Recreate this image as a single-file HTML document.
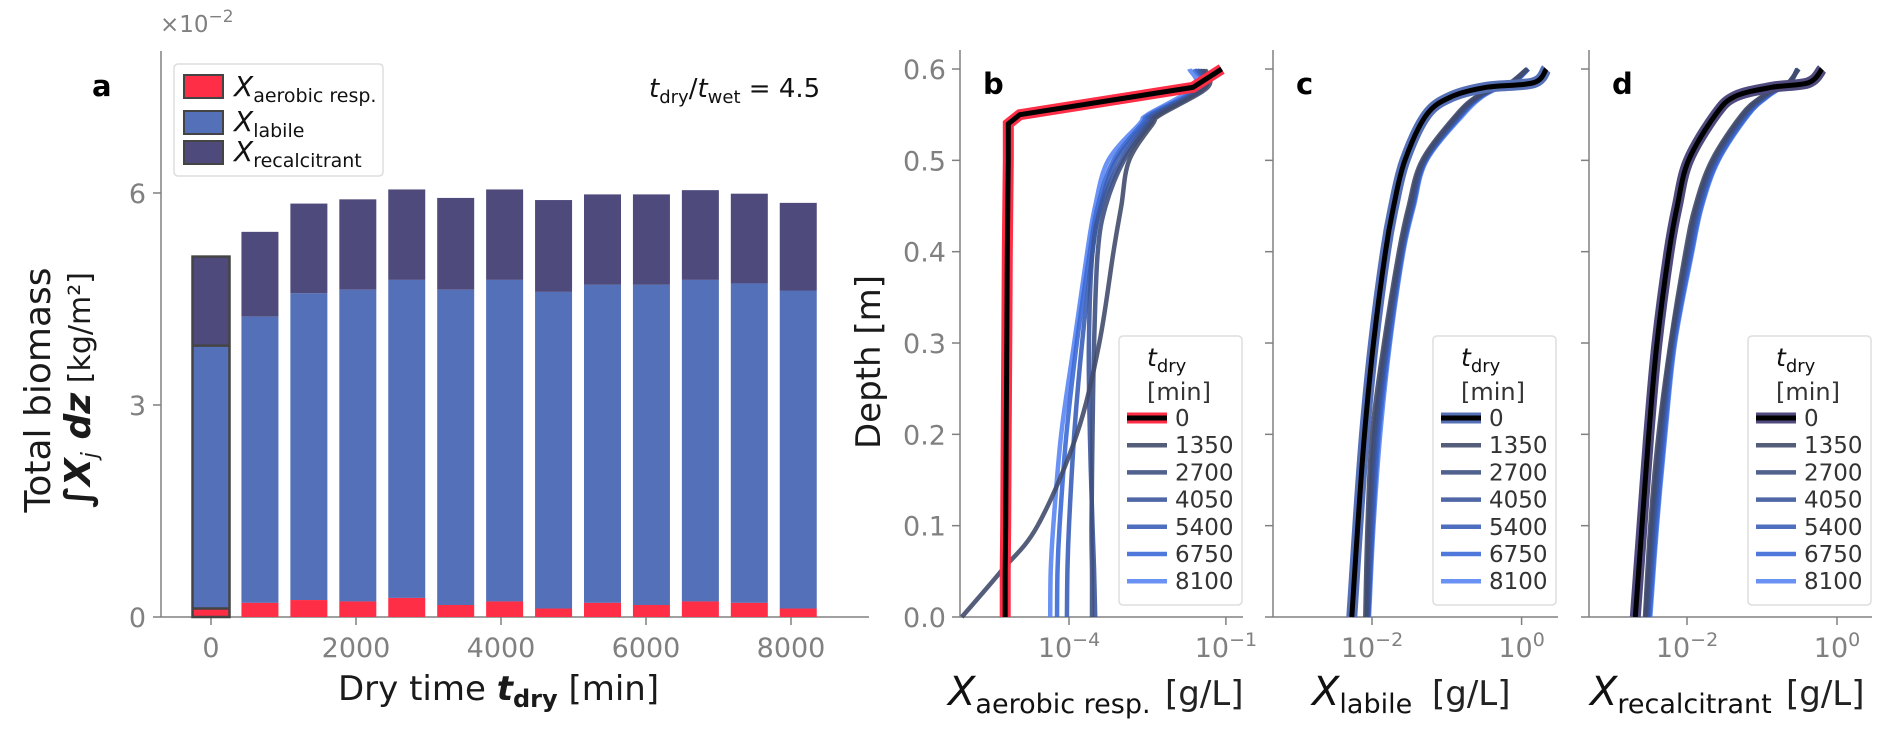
<!DOCTYPE html>
<html><head><meta charset="utf-8"><style>
html,body{margin:0;padding:0;background:#fff;}
svg{display:block;font-family:"DejaVu Sans","Liberation Sans",sans-serif;}
.tick{fill:#808080;font-size:27px;}
.lab{fill:#1a1a1a;font-size:32px;}
</style></head><body>
<svg id="fig" width="1892" height="731" viewBox="0 0 1892 731" xmlns="http://www.w3.org/2000/svg">
<g id="pa"></g>
<g id="pb"></g>
<g id="pc"></g>
<g id="pd"></g>
</svg>
<script>
// ---- Panel a data ----
const dryTimes=[0,675,1350,2025,2700,3375,4050,4725,5400,6075,6750,7425,8100];
const aerobicVals=[0.12,0.2,0.24,0.22,0.27,0.17,0.22,0.12,0.2,0.17,0.22,0.2,0.12];
const labileTops=[3.84,4.25,4.58,4.63,4.77,4.63,4.77,4.6,4.7,4.7,4.77,4.72,4.62];
const totalVals=[5.1,5.45,5.85,5.91,6.05,5.93,6.05,5.9,5.98,5.98,6.04,5.99,5.86];
const aYTicks=[0,3,6];
const aXTicks=[0,2000,4000,6000,8000];
// ---- Profile panels data (log10 concentration vs depth) ----
const seriesLabels=["0","1350","2700","4050","5400","6750","8100"];
const depthB=[0,0.05,0.1,0.2,0.3,0.4,0.45,0.5,0.54,0.55,0.58,0.6];
const bVals=[
[-5.22,-5.22,-5.21,-5.2,-5.19,-5.18,-5.17,-5.16,-5.16,-4.94,-1.63,-1.08],
[-6.05,-5.3,-4.6,-3.85,-3.42,-3.15,-3.0,-2.85,-2.4,-2.25,-1.35,-1.4],
[-3.56,-3.56,-3.57,-3.55,-3.52,-3.45,-3.3,-2.95,-2.45,-2.3,-1.4,-1.45],
[-3.5,-3.52,-3.55,-3.6,-3.62,-3.55,-3.38,-3.0,-2.5,-2.35,-1.42,-1.5],
[-4.04,-4.03,-4.0,-3.9,-3.75,-3.55,-3.4,-3.1,-2.55,-2.4,-1.45,-1.55],
[-4.23,-4.22,-4.18,-4.05,-3.85,-3.6,-3.45,-3.15,-2.6,-2.45,-1.5,-1.6],
[-4.36,-4.35,-4.3,-4.15,-3.9,-3.65,-3.5,-3.25,-2.65,-2.5,-1.6,-1.7]];
const depthCD=[0,0.1,0.2,0.3,0.4,0.45,0.5,0.55,0.57,0.58,0.585,0.6];
const cVals=[
[-2.27,-2.19,-2.10,-1.98,-1.82,-1.71,-1.56,-1.27,-0.93,-0.47,0.16,0.33],
[-2.09,-2.06,-2.0,-1.84,-1.64,-1.51,-1.33,-0.87,-0.6,-0.33,-0.15,0.07],
[-2.07,-2.04,-1.97,-1.82,-1.62,-1.49,-1.31,-0.85,-0.58,-0.32,-0.14,0.08],
[-2.06,-2.02,-1.95,-1.8,-1.61,-1.47,-1.3,-0.83,-0.56,-0.31,-0.13,0.08],
[-2.05,-2.0,-1.93,-1.79,-1.6,-1.46,-1.29,-0.81,-0.55,-0.3,-0.12,0.09],
[-2.05,-1.99,-1.91,-1.77,-1.59,-1.45,-1.28,-0.8,-0.54,-0.29,-0.11,0.09],
[-2.04,-1.98,-1.89,-1.76,-1.58,-1.44,-1.27,-0.78,-0.52,-0.29,-0.1,0.09]];
const dVals=[
[-2.69,-2.6,-2.51,-2.4,-2.24,-2.13,-1.98,-1.62,-1.36,-0.87,-0.38,-0.2],
[-2.56,-2.49,-2.38,-2.22,-2.02,-1.89,-1.67,-1.27,-1.0,-0.78,-0.65,-0.51],
[-2.55,-2.47,-2.36,-2.21,-2.0,-1.87,-1.65,-1.25,-0.98,-0.77,-0.64,-0.52],
[-2.53,-2.45,-2.34,-2.2,-1.98,-1.85,-1.63,-1.23,-0.96,-0.76,-0.63,-0.52],
[-2.52,-2.43,-2.32,-2.19,-1.96,-1.83,-1.61,-1.21,-0.95,-0.75,-0.63,-0.53],
[-2.5,-2.41,-2.3,-2.17,-1.94,-1.81,-1.59,-1.19,-0.93,-0.74,-0.62,-0.53],
[-2.49,-2.4,-2.29,-2.16,-1.93,-1.8,-1.58,-1.18,-0.92,-0.73,-0.62,-0.53]];
const depthTicks=[0,0.1,0.2,0.3,0.4,0.5,0.6];
const bXTicks=[-4,-1];
const cdXTicks=[-2,0];

const NS="http://www.w3.org/2000/svg";
const seriesColors=["#000","#414b6c","#3e5081","#3c569c","#3b5fb8","#3b69d6","#5a86f3"];
function mk(parent,tag,attrs,text){const e=document.createElementNS(NS,tag);for(const k in attrs)e.setAttribute(k,attrs[k]);if(text!==undefined)e.textContent=text;parent.appendChild(e);return e;}
function smoothPath(P){
 let d='M'+P[0][0].toFixed(1)+','+P[0][1].toFixed(1);
 for(let i=0;i<P.length-1;i++){
  const p0=P[i-1]||P[i],p1=P[i],p2=P[i+1],p3=P[i+2]||P[i+1];
  const c1=[p1[0]+(p2[0]-p0[0])/6,p1[1]+(p2[1]-p0[1])/6];
  const c2=[p2[0]-(p3[0]-p1[0])/6,p2[1]-(p3[1]-p1[1])/6];
  d+=' C'+c1[0].toFixed(1)+','+c1[1].toFixed(1)+' '+c2[0].toFixed(1)+','+c2[1].toFixed(1)+' '+p2[0].toFixed(1)+','+p2[1].toFixed(1);
 }
 return d;
}

const xA=t=>211+t*0.0725;
const yA=v=>617-v*70.67;
const yDepth=d=>617-d*913.3;
const xB=l=>1069+(l+4)*52.3;
const xC=l=>1372+(l+2)*74.8;
const xD=l=>1687+(l+2)*75;

// ---------- Panel a ----------
const pa=document.getElementById('pa');
let e;
e=mk(pa,'line',{x1:161,y1:51,x2:161,y2:617,stroke:'#808080','stroke-width':1.5});

e=mk(pa,'line',{x1:161,y1:617,x2:869,y2:617,stroke:'#808080','stroke-width':1.5});

aYTicks.forEach(v=>{const y=yA(v);
 mk(pa,'line',{x1:153,y1:y,x2:161,y2:y,stroke:'#808080','stroke-width':1.5});
 e=mk(pa,'text',{x:146,y:y+10,'text-anchor':'end',class:'tick'},String(v));
 });
aXTicks.forEach(v=>{const x=xA(v);
 mk(pa,'line',{x1:x,y1:617,x2:x,y2:625,stroke:'#808080','stroke-width':1.5});
 e=mk(pa,'text',{x:x,y:657,'text-anchor':'middle',class:'tick'},String(v));
 });
const bw=37;
dryTimes.forEach((t,i)=>{const x=xA(t)-bw/2;
 e=mk(pa,'rect',{x:x,y:yA(totalVals[i]),width:bw,height:yA(labileTops[i])-yA(totalVals[i]),fill:'#4e4a7c'});
 
 e=mk(pa,'rect',{x:x,y:yA(labileTops[i]),width:bw,height:yA(aerobicVals[i])-yA(labileTops[i]),fill:'#5370b8'});
 
 e=mk(pa,'rect',{x:x,y:yA(aerobicVals[i]),width:bw,height:yA(0)-yA(aerobicVals[i]),fill:'#ff2e47'});
 
 if(i===0){
  mk(pa,'rect',{x:x,y:yA(totalVals[i]),width:bw,height:yA(0)-yA(totalVals[i]),fill:'none',stroke:'#444','stroke-width':2.5});
  mk(pa,'line',{x1:x,y1:yA(labileTops[i]),x2:x+bw,y2:yA(labileTops[i]),stroke:'#444','stroke-width':2.5});
  mk(pa,'line',{x1:x,y1:yA(aerobicVals[i]),x2:x+bw,y2:yA(aerobicVals[i]),stroke:'#444','stroke-width':2.5});
 }
});
</script>
<script>
(function(){
const pa=document.getElementById('pa');
pa.insertAdjacentHTML('beforeend',`
<text x="160" y="32" class="tick" style="font-size:23px">×10<tspan dy="-10" style="font-size:17px">−2</tspan></text>
<text x="92" y="96" style="font-size:29px;font-weight:bold" fill="#000">a</text>
<g>
<rect x="174" y="64" width="209" height="112" rx="4" fill="#fff" stroke="#ddd" stroke-width="1.5"/>
<rect x="184" y="75" width="39" height="23" fill="#ff2e47" stroke="#444" stroke-width="2"/>
<rect x="184" y="111" width="39" height="23" fill="#5370b8" stroke="#444" stroke-width="2"/>
<rect x="184" y="141" width="39" height="23" fill="#4e4a7c" stroke="#444" stroke-width="2"/>
<text x="234" y="96" style="font-size:28px;font-style:italic" fill="#111">X<tspan dy="6" style="font-size:19px;font-style:normal">aerobic resp.</tspan></text>
<text x="234" y="131" style="font-size:28px;font-style:italic" fill="#111">X<tspan dy="6" style="font-size:19px;font-style:normal">labile</tspan></text>
<text x="234" y="161" style="font-size:28px;font-style:italic" fill="#111">X<tspan dy="6" style="font-size:19px;font-style:normal">recalcitrant</tspan></text>
</g>
<text x="649" y="97" style="font-size:26px" fill="#111"><tspan font-style="italic">t</tspan><tspan dy="6" style="font-size:18px">dry</tspan><tspan dy="-6">/</tspan><tspan font-style="italic">t</tspan><tspan dy="6" style="font-size:18px">wet</tspan><tspan dy="-6"> =  4.5</tspan></text>
<text x="338" y="700" class="lab" style="font-size:34px">Dry time   <tspan font-style="italic" font-weight="bold">t</tspan><tspan dy="7" style="font-size:24px;font-weight:bold">dry</tspan><tspan dy="-7"> [min]</tspan></text>
<text transform="translate(50,390) rotate(-90)" text-anchor="middle" class="lab" style="font-size:36px">Total biomass</text>
<text transform="translate(90,390) rotate(-90)" text-anchor="middle" class="lab" style="font-size:36px"><tspan font-style="italic" font-weight="bold">∫X</tspan><tspan dy="7" style="font-size:22px;font-style:italic">j</tspan><tspan dy="-7" font-style="italic" font-weight="bold"> dz</tspan><tspan style="font-size:30px"> [kg/m²]</tspan></text>
`);
})();
</script>
<script>
function profilePanel(gid,letter,spineX,rightX,xf,ticks,depths,vals,zeroColor,showYLabels,legX,xTitleSub,xTitleX,unitX,smoothZero){
 const g=document.getElementById(gid);
 let e;
 e=mk(g,'line',{x1:spineX,y1:50,x2:spineX,y2:617,stroke:'#808080','stroke-width':1.5});
 
 e=mk(g,'line',{x1:spineX,y1:617,x2:rightX,y2:617,stroke:'#808080','stroke-width':1.5});
 
 depthTicks.forEach(d=>{const y=yDepth(d);
  mk(g,'line',{x1:spineX-8,y1:y,x2:spineX,y2:y,stroke:'#808080','stroke-width':1.5});
  if(showYLabels){e=mk(g,'text',{x:spineX-14,y:y+10,'text-anchor':'end',class:'tick'},d.toFixed(1));
   }
 });
 ticks.forEach(l=>{const x=xf(l);
  mk(g,'line',{x1:x,y1:617,x2:x,y2:625,stroke:'#808080','stroke-width':1.5});
  e=mk(g,'text',{x:x,y:657,'text-anchor':'middle',class:'tick'});
  
  e.appendChild(document.createTextNode('10'));
  mk(e,'tspan',{dy:-11,style:'font-size:19px'},(l<0?'−':'')+Math.abs(l));
 });
 for(let s=vals.length-1;s>=1;s--){
  const P=vals[s].map((v,i)=>[xf(v),yDepth(depths[i])]);
  e=mk(g,'path',{d:smoothPath(P),fill:'none',stroke:seriesColors[s],'stroke-width':4.5,'stroke-opacity':0.9,'stroke-linejoin':'round'});
  
 }
 const P0=vals[0].map((v,i)=>[xf(v),yDepth(depths[i])]);
 const d0=smoothZero?smoothPath(P0):'M'+P0.map(p=>p[0].toFixed(1)+','+p[1].toFixed(1)).join(' L');
 e=mk(g,'path',{d:d0,fill:'none',stroke:zeroColor,'stroke-width':11,'stroke-linejoin':'miter'});
 
 e=mk(g,'path',{d:d0,fill:'none',stroke:'#000','stroke-width':5,'stroke-linejoin':'miter'});
 
 e=mk(g,'text',{x:spineX+23,y:94,style:'font-size:29px;font-weight:bold',fill:'#000'},letter);
 
 const lg=mk(g,'g',{});
 
 mk(lg,'rect',{x:legX,y:336,width:123,height:269,rx:4,fill:'#fff','fill-opacity':0.85,stroke:'#ddd','stroke-width':1.5});
 const tt=mk(lg,'text',{x:legX+28,y:366,style:'font-size:25px',fill:'#111'});
 mk(tt,'tspan',{'font-style':'italic'},'t');mk(tt,'tspan',{dy:6,style:'font-size:18px'},'dry');
 mk(lg,'text',{x:legX+28,y:400,style:'font-size:24px',fill:'#333'},'[min]');
 seriesLabels.forEach((lab,s)=>{const y=418+s*27.2;
  if(s===0){mk(lg,'line',{x1:legX+8,y1:y,x2:legX+48,y2:y,stroke:zeroColor,'stroke-width':11});
   mk(lg,'line',{x1:legX+8,y1:y,x2:legX+48,y2:y,stroke:'#000','stroke-width':5});}
  else mk(lg,'line',{x1:legX+8,y1:y,x2:legX+48,y2:y,stroke:seriesColors[s],'stroke-width':4.5,'stroke-opacity':0.9});
  const t=mk(lg,'text',{x:legX+56,y:y+8,style:'font-size:23px',fill:'#333'},lab);
  
 });
 e=mk(g,'text',{x:xTitleX,y:705,style:'font-size:40px;font-style:italic',fill:'#111'},'X');
 
 mk(e,'tspan',{dy:8,style:'font-size:27px;font-style:normal'},xTitleSub);
 e=mk(g,'text',{x:unitX,y:705,style:'font-size:34px',fill:'#222'},'[g/L]');
 
}
profilePanel('pb','b',960,1243,xB,bXTicks,depthB,bVals,'#ff2d45',true,1119,'aerobic resp.',948,1165,false);
profilePanel('pc','c',1273,1558,xC,cdXTicks,depthCD,cVals,'#5570b6',false,1433,'labile',1312,1432,true);
profilePanel('pd','d',1589,1872,xD,cdXTicks,depthCD,dVals,'#4f4b7e',false,1748,'recalcitrant',1590,1786,true);
const dl=mk(document.getElementById('pb'),'text',{transform:'translate(880,362) rotate(-90)','text-anchor':'middle',style:'font-size:34px',fill:'#1a1a1a'},'Depth [m]');


</script>
</body></html>
